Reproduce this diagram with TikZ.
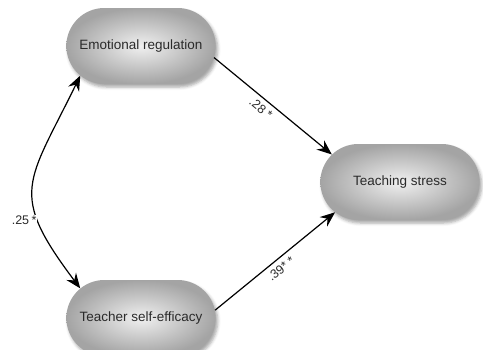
\documentclass[tikz,border=0pt]{standalone}
\usepackage{fontspec}
\setmainfont{Liberation Sans}
\usetikzlibrary{shapes.misc,arrows.meta,shadows.blur}
\definecolor{nodein}{HTML}{F0F0F0}
\definecolor{nodeout}{HTML}{A4A4A4}
\definecolor{txt}{HTML}{2A2A2A}
\tikzset{
  var/.style={rounded rectangle, minimum width=156pt, minimum height=76pt,
    inner color=nodein, outer color=nodeout, text=txt,
    font=\fontsize{13.5}{16}\selectfont,
    blur shadow={shadow xshift=2pt, shadow yshift=-3pt, shadow blur radius=3pt, shadow opacity=35}},
  path/.style={line width=1.2pt, -{Stealth[length=15pt,width=12pt,inset=5pt]}},
  dpath/.style={line width=1.2pt, {Stealth[length=15pt,width=12pt,inset=5pt]}-{Stealth[length=15pt,width=12pt,inset=5pt]}},
  lab/.style={font=\fontsize{12.5}{14}\selectfont, text=txt, inner sep=1.5pt}
}
\begin{document}
\begin{tikzpicture}[x=1pt,y=1pt]
\useasboundingbox (0,0) rectangle (483,-349);
\node[var] (er) at (141,-46) {Emotional regulation};
\node[var, minimum width=166pt] (ts) at (400,-182) {Teaching stress};
\node[var] (tse) at (141,-318) {Teacher self-efficacy};

\draw[path] (er.-9) -- node[lab, sloped, below=3pt, pos=0.45] {.28 *} (ts.158);
\draw[path] (tse.6) -- node[lab, sloped, below=3pt, pos=0.5] {.39* *} (ts.205);
\draw[dpath] (er.206) to[out=244, in=127, looseness=1.45] (tse.154);
\node[lab, fill=white, inner sep=1pt] (s25) at (34,-220) {*};
\node[lab, anchor=east, inner sep=1pt] (l25) at (s25.west) {.25};
\end{tikzpicture}
\end{document}
